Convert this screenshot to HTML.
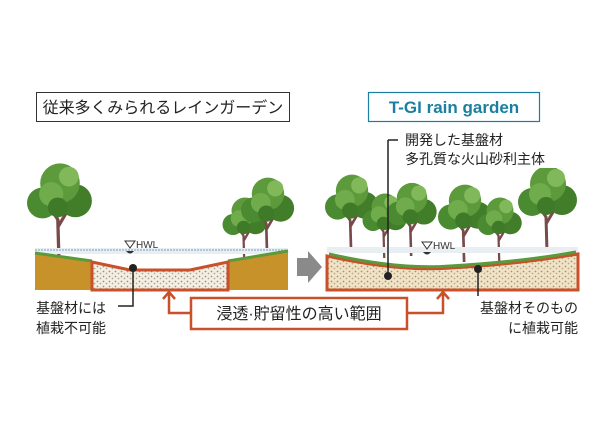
<!DOCTYPE html>
<html><head><meta charset="utf-8"><style>
body{margin:0;background:#fff}
svg{display:block}
text{font-family:"Liberation Sans","Noto Sans CJK JP",sans-serif}
</style></head><body>
<svg width="600" height="424" viewBox="0 0 600 424">
<defs>
<pattern id="gr" width="6" height="5" patternUnits="userSpaceOnUse">
<rect width="6" height="5" fill="#f4efe4"/>
<circle cx="1.5" cy="1.5" r="0.9" fill="#9a9080"/>
<circle cx="4.5" cy="3.5" r="0.9" fill="#b0a690"/>
</pattern>
<pattern id="gr2" width="6" height="5" patternUnits="userSpaceOnUse">
<rect width="6" height="5" fill="#f0e4c8"/>
<circle cx="1.5" cy="1.5" r="0.9" fill="#a89070"/>
<circle cx="4.5" cy="3.5" r="0.9" fill="#c0a880"/>
</pattern>
<g id="tree">
<path d="M-1 0 L-2 -35 L-12 -50 M-2 -28 L8 -45" stroke="#7a4a4a" stroke-width="3" fill="none"/>
<circle cx="-16" cy="-50" r="14" fill="#4a8a30"/>
<circle cx="14" cy="-52" r="15" fill="#427e2a"/>
<circle cx="0" cy="-68" r="18" fill="#5c9a3c"/>
<circle cx="-8" cy="-58" r="11" fill="#70ac4c"/>
<circle cx="8" cy="-74" r="9" fill="#80b85a"/>
<circle cx="-2" cy="-46" r="9" fill="#3e7a28"/>
</g>
</defs>
<!-- headers -->
<rect x="36.5" y="92.5" width="253" height="29" fill="#fff" stroke="#333" stroke-width="1"/>
<text x="163" y="113" font-size="16" text-anchor="middle" fill="#222">従来多くみられるレインガーデン</text>
<rect x="368.5" y="92.5" width="171" height="29" fill="#fff" stroke="#1a7fa0" stroke-width="1.2"/>
<text x="454" y="113" font-size="17" font-weight="bold" text-anchor="middle" fill="#1a7fa0">T-GI rain garden</text>

<!-- left scene -->
<use href="#tree" transform="translate(60,258) scale(1.1)"/>
<use href="#tree" transform="translate(245,262) scale(0.75)"/>
<use href="#tree" transform="translate(268,255) scale(0.9)"/>
<rect x="35" y="248" width="253" height="6" fill="#e8eef2"/>
<line x1="35" y1="250" x2="288" y2="250" stroke="#7aa0b8" stroke-dasharray="2,1"/>
<path d="M35 254 L92 262 L92 290 L35 290Z" fill="#c8922a"/>
<path d="M228 262 L288 252 L288 290 L228 290Z" fill="#c8922a"/>
<path d="M35 253 L92 261" stroke="#5a9a3a" stroke-width="3"/>
<path d="M228 261 L288 251" stroke="#5a9a3a" stroke-width="3"/>
<path d="M92 262 L130 270 L190 270 L228 262 L228 290 L92 290Z" fill="url(#gr)" stroke="#c8502a" stroke-width="3"/>
<path d="M125 241 L135 241 L130 248Z" fill="none" stroke="#333"/>
<path d="M126 251 Q130 256 134 251Z" fill="#333"/>
<text x="136" y="248" font-size="10" fill="#333">HWL</text>
<circle cx="133" cy="268" r="4" fill="#222"/>
<path d="M133 268 L133 306 L118 306" stroke="#222" stroke-width="1.5" fill="none"/>
<text x="36" y="313" font-size="14" fill="#222">基盤材には</text>
<text x="36" y="333" font-size="14" fill="#222">植栽不可能</text>

<!-- arrow -->
<path d="M297 258 L308 258 L308 251 L322 267 L308 283 L308 276 L297 276Z" fill="#8a8a8a"/>

<!-- right scene -->
<use href="#tree" transform="translate(352,252) scale(0.9)"/>
<use href="#tree" transform="translate(385,258) scale(0.75)"/>
<use href="#tree" transform="translate(412,256) scale(0.85)"/>
<use href="#tree" transform="translate(465,262) scale(0.9)"/>
<use href="#tree" transform="translate(500,262) scale(0.75)"/>
<use href="#tree" transform="translate(548,252) scale(1.0)"/>
<rect x="327" y="247" width="251" height="6" fill="#e8eef2"/>
<path d="M327 256 Q400 272 450 268 Q520 264 578 254 L578 290 L327 290Z" fill="url(#gr2)" stroke="#c8502a" stroke-width="3"/>
<path d="M329 254 Q400 270 450 266 Q520 262 576 252" stroke="#5a9a3a" stroke-width="3" fill="none"/>
<rect x="400" y="128" width="160" height="40" fill="#fff"/>
<text x="405" y="145" font-size="14" fill="#222">開発した基盤材</text>
<text x="405" y="164" font-size="14" fill="#222">多孔質な火山砂利主体</text>
<line x1="388" y1="140" x2="388" y2="276" stroke="#222" stroke-width="1.5"/>
<line x1="388" y1="140" x2="398" y2="140" stroke="#222" stroke-width="1.5"/>
<circle cx="388" cy="276" r="4" fill="#222"/>
<path d="M422 242 L432 242 L427 249Z" fill="none" stroke="#333"/>
<path d="M423 252 Q427 257 431 252Z" fill="#333"/>
<text x="433" y="249" font-size="10" fill="#333">HWL</text>
<circle cx="478" cy="269" r="4" fill="#222"/>
<line x1="478" y1="269" x2="478" y2="296" stroke="#222" stroke-width="1.5"/>
<text x="578" y="313" font-size="14" fill="#222" text-anchor="end">基盤材そのもの</text>
<text x="578" y="333" font-size="14" fill="#222" text-anchor="end">に植栽可能</text>

<!-- callout -->
<rect x="191" y="298" width="216" height="31" fill="#fff" stroke="#c8502a" stroke-width="2.5"/>
<text x="299" y="319" font-size="16" text-anchor="middle" fill="#222">浸透·貯留性の高い範囲</text>
<path d="M191 313 L169 313 L169 293 M163 299 L169 292 L175 299" stroke="#c8502a" stroke-width="2.5" fill="none"/>
<path d="M407 313 L443 313 L443 293 M437 299 L443 292 L449 299" stroke="#c8502a" stroke-width="2.5" fill="none"/>
</svg>
</body></html>
